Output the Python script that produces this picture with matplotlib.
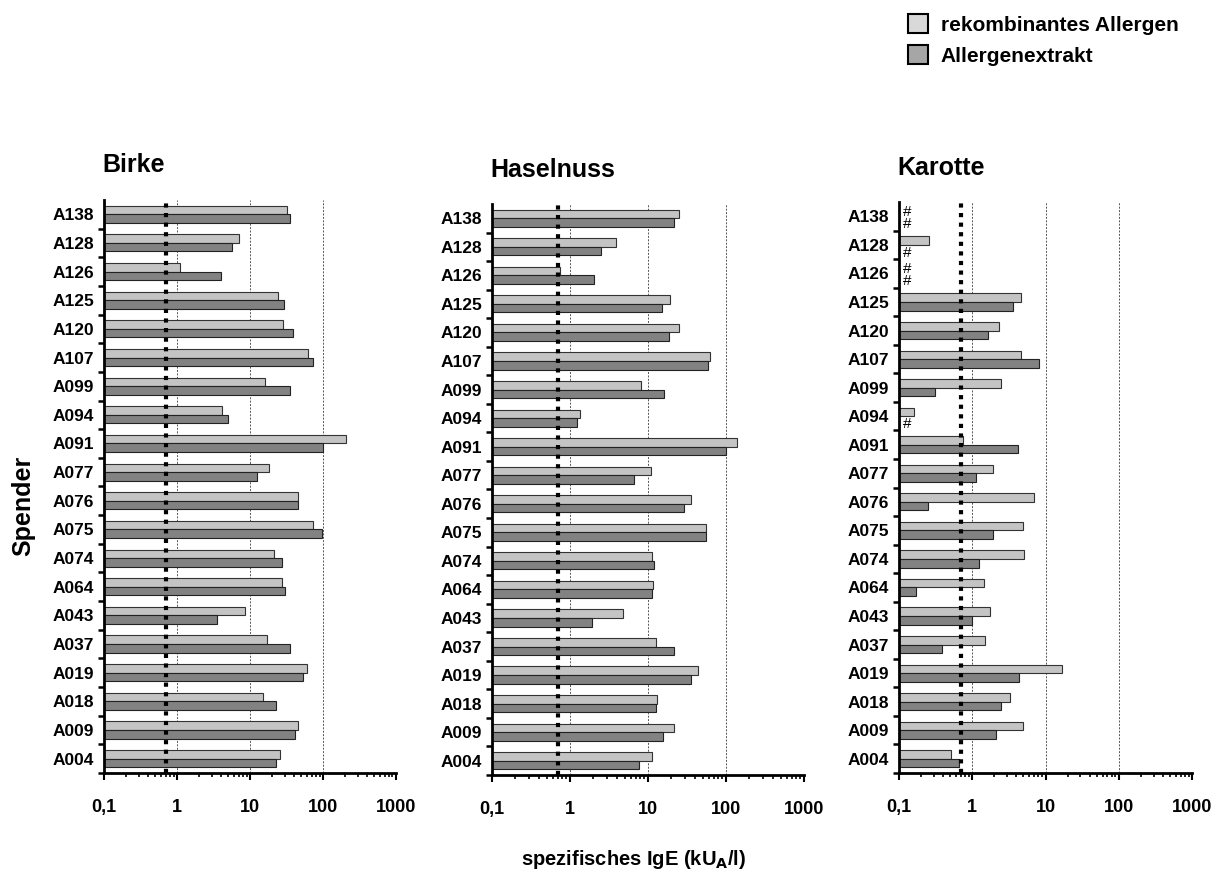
# IgE Vergleich: rekombinantes Allergen vs. Allergenextrakt
import numpy as np
import matplotlib.pyplot as plt
from matplotlib.patches import Patch
from matplotlib.ticker import LogLocator, NullFormatter, FixedLocator

plt.rcParams['font.family'] = ['Liberation Sans', 'DejaVu Sans']
plt.rcParams['font.weight'] = 'bold'

# Daten (von oben nach unten)
spender = ['A138', 'A128', 'A126', 'A125', 'A120', 'A107', 'A099', 'A094', 'A091', 'A077',
           'A076', 'A075', 'A074', 'A064', 'A043', 'A037', 'A019', 'A018', 'A009', 'A004']

birke_rek = [32.5, 7.1, 1.11, 24.2, 28.3, 63, 16.2, 4.2, 209, 18,
             45.9, 73.8, 21.3, 27.2, 8.6, 16.9, 61, 15.2, 45.5, 25.5]
birke_ext = [35.7, 5.7, 3.96, 29.5, 39.2, 73.8, 36, 5.0, 100, 12.6,
             45.9, 98.9, 27.2, 30.2, 3.57, 36, 54.3, 23, 41.8, 23]

hasel_rek = [24.7, 3.89, 0.74, 19, 24.7, 61.8, 8.2, 1.33, 138, 10.8,
             35.2, 54.9, 11.1, 11.7, 4.73, 12.8, 44.2, 12.9, 21.3, 11.4]
hasel_ext = [21.3, 2.52, 2.01, 15.1, 18.6, 58.2, 15.9, 1.22, 100, 6.55,
             28.7, 54.9, 12.1, 11.4, 1.9, 21.3, 35.6, 12.5, 15.4, 7.6]

# None = nicht gemessen (#)
karotte_rek = [None, 0.26, None, 4.6, 2.33, 4.65, 2.48, 0.16, 0.75, 1.93,
               7.0, 4.95, 5.1, 1.45, 1.75, 1.47, 16.7, 3.32, 5.0, 0.51]
karotte_ext = [None, None, None, 3.6, 1.65, 8.2, 0.31, None, 4.19, 1.13,
               0.25, 1.89, 1.24, 0.17, 1.0, 0.39, 4.37, 2.43, 2.12, 0.66]

titel = ['Birke', 'Haselnuss', 'Karotte']
xticks = [0.1, 1, 10, 100, 1000]
xticklabels = ['0,1', '1', '10', '100', '1000']
cutoff = 0.7

hell = '#c4c4c4'
dunkel = '#828282'

fig = plt.figure(figsize=(12.16, 8.73), dpi=100)
positions = [[0.0855, 0.1145, 0.2400, 0.6565],
             [0.4046, 0.1123, 0.2566, 0.6540],
             [0.7393, 0.1145, 0.2410, 0.6540]]
daten = [(birke_rek, birke_ext), (hasel_rek, hasel_ext), (karotte_rek, karotte_ext)]

n = len(spender)
ypos = np.arange(n)[::-1]
h = 0.30

for k in range(3):
    ax = fig.add_axes(positions[k])
    rek, ext = daten[k]
    ax.set_xscale('log')
    ax.set_xlim(0.1, 1000)
    ax.set_ylim(-0.5, n - 0.5)

    for i in range(n):
        if rek[i] is not None:
            ax.barh(ypos[i] + h / 2, rek[i] - 0.1, left=0.1, height=h,
                    color=hell, edgecolor='#333333', linewidth=0.8, zorder=2)
        else:
            ax.text(0.112, ypos[i] + h / 2, '#', fontsize=11, fontweight='normal',
                    va='center', ha='left', zorder=4)
        if ext[i] is not None:
            ax.barh(ypos[i] - h / 2, ext[i] - 0.1, left=0.1, height=h,
                    color=dunkel, edgecolor='#222222', linewidth=0.8, zorder=2)
        else:
            ax.text(0.112, ypos[i] - h / 2 - 0.12, '#', fontsize=11, fontweight='normal',
                    va='center', ha='left', zorder=4)

    ax.axvline(cutoff, color='black', linewidth=3, linestyle=(0, (1, 1.3)), zorder=3)
    for g in [1, 10, 100, 1000]:
        ax.axvline(g, color='#555555', linewidth=0.7, linestyle=(0, (2, 1.5)), zorder=1)

    # y-Achse: Striche zwischen den Spendern, Beschriftung in der Mitte
    ax.set_yticks(np.arange(n) - 0.5)
    ax.set_yticklabels([])
    ax.set_yticks(ypos, spender, minor=True)
    ax.tick_params(axis='y', which='major', length=4, width=1.8, direction='out')
    ax.tick_params(axis='y', which='minor', length=0, pad=7, labelsize=12.5)

    ax.set_xticks(xticks)
    ax.set_xticklabels(xticklabels)
    ax.xaxis.set_minor_locator(LogLocator(base=10, subs=np.arange(2, 10)))
    ax.xaxis.set_minor_formatter(NullFormatter())
    ax.tick_params(axis='x', which='major', length=5, width=1.5, pad=14, labelsize=13)
    ax.tick_params(axis='x', which='minor', length=3, width=1.2)

    for s in ['top', 'right']:
        ax.spines[s].set_visible(False)
    ax.spines['left'].set_linewidth(2)
    ax.spines['bottom'].set_linewidth(2)

    ax.text(-0.005, 1.048, titel[k], transform=ax.transAxes, fontsize=18,
            fontweight='bold', ha='left', va='baseline')

fig.text(0.019, 0.42, 'Spender', rotation=90, fontsize=18, fontweight='bold',
         ha='center', va='center')
fig.text(0.521, 0.016, 'spezifisches IgE (kU$_\\mathbf{A}$/l)', fontsize=14.5,
         fontweight='bold', ha='center', va='center')

handles = [Patch(facecolor='#d9d9d9', edgecolor='black', linewidth=1.5),
           Patch(facecolor='#a6a6a6', edgecolor='black', linewidth=1.5)]
fig.legend(handles, ['rekombinantes Allergen', 'Allergenextrakt'],
           loc='upper left', bbox_to_anchor=(0.731, 1.005), frameon=False,
           prop={'size': 15, 'weight': 'bold'}, handlelength=1.0, handleheight=1.0,
           handletextpad=0.6, labelspacing=0.5)

plt.savefig('out.png', dpi=100)
